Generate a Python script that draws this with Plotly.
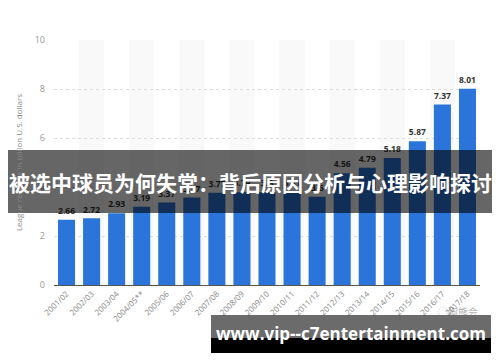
import plotly.graph_objects as go

seasons = ["2001/02", "2002/03", "2003/04", "2004/05**", "2005/06", "2006/07",
           "2007/08", "2008/09", "2009/10", "2010/11", "2011/12", "2012/13",
           "2013/14", "2014/15", "2015/16", "2016/17", "2017/18"]
revenue = [2.66, 2.72, 2.93, 3.19, 3.37, 3.57, 3.77, 3.79, 3.8, 3.81, 3.6,
           4.56, 4.79, 5.18, 5.87, 7.37, 8.01]
y_ticks = [0, 2, 4, 6, 8, 10]
y_title = "League revenue in billion U.S. dollars"
headline = "被选中球员为何失常：背后原因分析与心理影响探讨"
site = "www.vip--c7entertainment.com"
watermark = "◯狗熊会"

fig = go.Figure()
fig.add_trace(go.Bar(
    x=seasons, y=revenue, width=0.68,
    marker=dict(color="#2b74d9", line=dict(width=0)),
    text=[f"{v:g}" for v in revenue], textposition="outside",
    textfont=dict(family="Open Sans", size=9, color="#333333", weight="bold"),
    cliponaxis=False, hoverinfo="skip",
))

# page pixel -> paper coordinates (page offset of 8px body margin included)
px = lambda x: (x - 54) / 426
py = lambda y: (285 - y) / 245

shapes = []
# alternating column stripes
for i in range(1, len(seasons), 2):
    shapes.append(dict(type="rect", xref="x", yref="paper", x0=i - 0.5, x1=i + 0.5,
                       y0=0, y1=1, fillcolor="#f9f9f9", line=dict(width=0), layer="below"))
# headline banner
shapes.append(dict(type="rect", xref="paper", yref="paper", x0=px(8), x1=px(492),
                   y0=py(213), y1=py(150),
                   fillcolor="rgba(0,0,0,0.6)", line=dict(width=0), layer="above"))
# bottom banner (grey + black)
shapes.append(dict(type="rect", xref="paper", yref="paper", x0=px(211), x1=px(491),
                   y0=py(338), y1=py(315), fillcolor="rgba(0,0,0,0.58)",
                   line=dict(width=0), layer="above"))
shapes.append(dict(type="rect", xref="paper", yref="paper", x0=px(211), x1=px(491),
                   y0=py(353), y1=py(338), fillcolor="#000000",
                   line=dict(width=0), layer="above"))

annotations = [
    dict(text=headline, xref="paper", yref="paper", x=px(250), y=py(182),
         showarrow=False, xanchor="center", yanchor="middle",
         font=dict(family="Noto Sans CJK SC", size=21, color="white", weight="bold")),
    dict(text=site, xref="paper", yref="paper", x=px(351), y=py(333),
         showarrow=False, xanchor="center", yanchor="middle",
         font=dict(family="Open Sans", size=17, color="white", weight="bold")),
    dict(text=watermark, xref="paper", yref="paper", x=px(480), y=py(311),
         showarrow=False, xanchor="right", yanchor="middle",
         font=dict(family="Noto Sans CJK SC", size=10, color="rgba(120,120,120,0.6)")),
]

fig.update_layout(
    width=492, height=354,
    margin=dict(l=46, r=20, t=32, b=77),
    paper_bgcolor="white", plot_bgcolor="white",
    showlegend=False, shapes=shapes, annotations=annotations,
    xaxis=dict(range=[-0.5, len(seasons) - 0.5], tickangle=-45, automargin=False,
               tickfont=dict(family="Open Sans", size=8, color="#888888"),
               showgrid=False, showline=True, linecolor="#555555", linewidth=1,
               ticks="", fixedrange=True),
    yaxis=dict(range=[0, 10], tickvals=y_ticks, automargin=False,
               tickfont=dict(family="Open Sans", size=9, color="#999999"),
               showgrid=True, gridcolor="#dddddd", griddash="dot", gridwidth=1,
               zeroline=False, showline=False, ticklabelstandoff=8,
               title=dict(text=y_title, font=dict(family="Open Sans", size=8, color="#888888"),
                          standoff=10)),
)

fig.write_html("out.html")
